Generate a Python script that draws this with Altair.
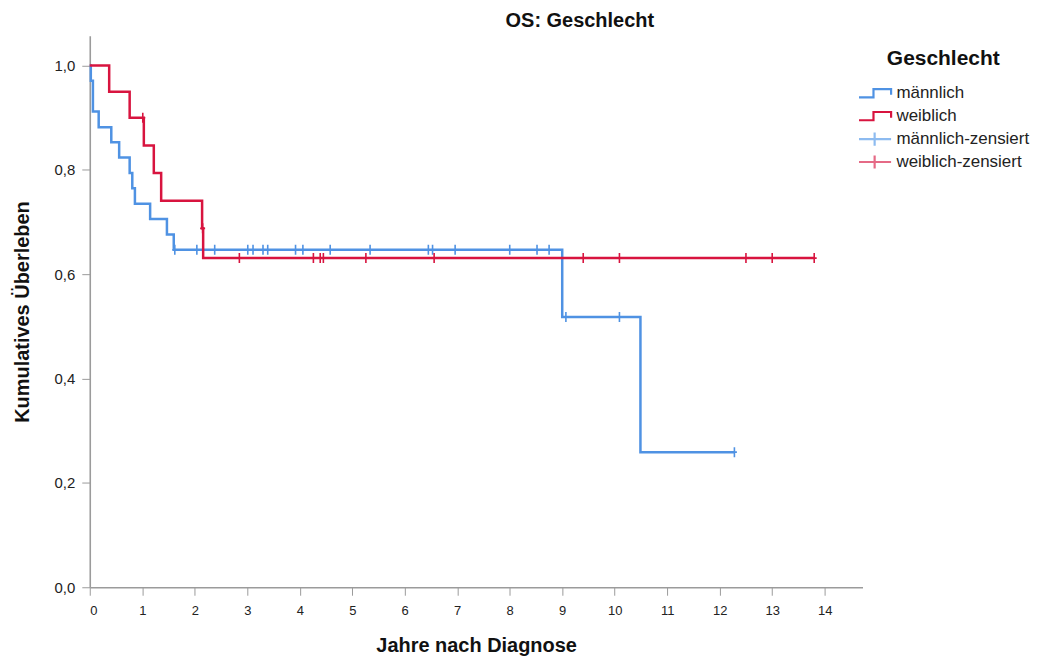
import altair as alt
import pandas as pd

# ---- data ----
male_t = [0.0, 0.02, 0.06, 0.17, 0.41, 0.56, 0.76, 0.81, 0.86, 1.15, 1.47, 1.60, 9.00, 10.49, 12.28]
male_s = [1.0, 0.971, 0.912, 0.882, 0.853, 0.824, 0.794, 0.765, 0.735, 0.706, 0.676, 0.647, 0.518, 0.259, 0.259]
male_cens_t = [1.62, 2.04, 2.38, 3.01, 3.11, 3.30, 3.39, 3.92, 4.06, 4.58, 5.34, 6.45, 6.53, 6.96,
               8.00, 8.52, 8.75, 9.07, 10.09, 12.28]
male_cens_s = [0.647, 0.647, 0.647, 0.647, 0.647, 0.647, 0.647, 0.647, 0.647, 0.647, 0.647, 0.647,
               0.647, 0.647, 0.647, 0.647, 0.647, 0.518, 0.518, 0.259]

female_t = [0.0, 0.37, 0.76, 1.03, 1.22, 1.36, 2.14, 2.16, 13.80]
female_s = [1.0, 0.95, 0.90, 0.847, 0.794, 0.741, 0.688, 0.631, 0.631]
female_cens_t = [1.01, 2.15, 2.85, 4.26, 4.39, 4.45, 5.26, 6.56, 9.40, 10.09, 12.50, 13.00, 13.80]
female_cens_s = [0.90, 0.688, 0.631, 0.631, 0.631, 0.631, 0.631, 0.631, 0.631, 0.631, 0.631, 0.631, 0.631]

categories = ["männlich", "weiblich", "männlich-zensiert", "weiblich-zensiert"]
x_ticks = list(range(0, 15))
y_ticks = [0.0, 0.2, 0.4, 0.6, 0.8, 1.0]

BLUE = "#4f92e3"
RED = "#d8143f"
LBLUE = "#8dbbf0"
LRED = "#e56a86"

line_df = pd.DataFrame(
    {"t": male_t + female_t, "s": male_s + female_s,
     "Geschlecht": ["männlich"] * len(male_t) + ["weiblich"] * len(female_t)})
cens_df = pd.DataFrame(
    {"t": male_cens_t + female_cens_t, "s": male_cens_s + female_cens_s,
     "Geschlecht": ["männlich"] * len(male_cens_t) + ["weiblich"] * len(female_cens_t)})

STEP = "M-1,0.25L-0.12,0.25L-0.12,-0.25L0.95,-0.25L0.95,0.1"
CROSS_LEG = "M-1,0L0.95,0M-0.05,-0.4L-0.05,0.4"
CROSS_PLOT = "M-0.5,0L0.5,0M0,-1L0,1"

color_scale = alt.Scale(domain=categories, range=[BLUE, RED, LBLUE, LRED])
shape_scale = alt.Scale(domain=categories, range=[STEP, STEP, CROSS_LEG, CROSS_LEG])

FONT = "Liberation Sans"

legend = alt.Legend(
    title="Geschlecht", orient="none", legendX=770, legendY=12,
    titleFontSize=21, titleFont=FONT, titleFontWeight="bold", titleColor="#111",
    titleAnchor="middle", titlePadding=16,
    labelFont=FONT, labelFontSize=17, labelColor="#222", labelOffset=3,
    symbolSize=1089, symbolStrokeWidth=2.2, rowPadding=5, clipHeight=17,
    symbolFillColor="transparent",
)

x_enc = alt.X("t:Q", scale=alt.Scale(domain=[0, 14.72], nice=False, zero=True),
              axis=alt.Axis(values=x_ticks, title="Jahre nach Diagnose", grid=False,
                            tickSize=8, labelPadding=9, titlePadding=18,
                            labelFont=FONT, labelFontSize=13, labelColor="#222",
                            titleFont=FONT, titleFontSize=20, titleFontWeight="bold",
                            titleColor="#111", domainColor="#9b9b9b", domainWidth=1.6,
                            tickColor="#9b9b9b"))
y_enc = alt.Y("s:Q", scale=alt.Scale(domain=[0, 1.057], nice=False),
              axis=alt.Axis(values=y_ticks, title="Kumulatives Überleben", grid=False,
                            labelExpr="replace(format(datum.value, '.1f'), '.', ',')",
                            tickSize=8, labelPadding=7, titlePadding=22,
                            labelFont=FONT, labelFontSize=15, labelColor="#222",
                            titleFont=FONT, titleFontSize=20, titleFontWeight="bold",
                            titleColor="#111", domainColor="#9b9b9b", domainWidth=1.6,
                            tickColor="#9b9b9b"))

lines = alt.Chart(line_df).mark_line(interpolate="step-after", strokeWidth=2.5).encode(
    x=x_enc, y=y_enc,
    color=alt.Color("Geschlecht:N", scale=color_scale, legend=legend),
)

cens = alt.Chart(cens_df).mark_point(shape=CROSS_PLOT, size=100, filled=False, strokeWidth=1.6,
                                     opacity=1).encode(
    x=x_enc, y=y_enc,
    color=alt.Color("Geschlecht:N", scale=color_scale, legend=legend),
)

legend_layer = alt.Chart(cens_df).transform_filter("false").mark_point(
    filled=False, strokeWidth=2.2, opacity=1).encode(
    x=x_enc, y=y_enc,
    color=alt.Color("Geschlecht:N", scale=color_scale, legend=legend),
    shape=alt.Shape("Geschlecht:N", scale=shape_scale, legend=legend),
)

chart = alt.layer(lines, cens, legend_layer).properties(
    width=775, height=553, background="white",
    title=alt.TitleParams("OS: Geschlecht", font=FONT, fontSize=20,
                          fontWeight="bold", color="#111", anchor="middle", dx=104, offset=5),
    autosize=alt.AutoSizeParams(type="none"),
    padding={"left": 82, "top": 27, "right": 170, "bottom": 68},
).configure_view(stroke=None)

chart.save("out.html", embed_options={"renderer": "svg", "actions": False})
